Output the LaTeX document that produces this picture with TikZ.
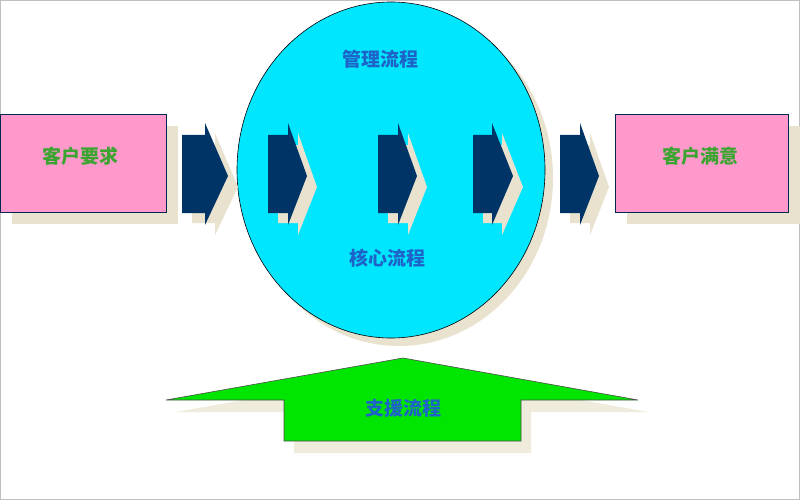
\documentclass[tikz,border=0pt]{standalone}
\usepackage{fontspec}
\usetikzlibrary{shapes.geometric}
\newfontfamily\cjk{Noto Sans CJK SC}
\definecolor{cyanfill}{RGB}{0,230,255}
\definecolor{pinkfill}{RGB}{255,153,204}
\definecolor{navy}{RGB}{0,51,102}
\definecolor{shadowc}{RGB}{232,226,206}
\definecolor{greenfill}{RGB}{0,230,0}
\definecolor{bluetext}{RGB}{30,100,200}
\definecolor{greentext}{RGB}{60,165,50}
\tikzset{
  lbl/.style={font=\cjk\bfseries\fontsize{19}{19}\selectfont},
  boxst/.style={draw=navy!80!black, line width=0.8pt, fill=pinkfill},
}
\begin{document}
\begin{tikzpicture}[x=1pt,y=-1pt]
\useasboundingbox (0,0) rectangle (800,500);
\fill[white] (0,0) rectangle (800,500);
\draw[gray!50, line width=1pt] (0.5,0.5) rectangle (799.5,499.5);
% ellipse
\fill[shadowc] (399,178) ellipse [x radius=154, y radius=168];
\node[draw=black, line width=0.6pt, fill=cyanfill, ellipse, minimum width=308, minimum height=336, inner sep=0] (core) at (391,170) {};
% boxes
\fill[shadowc] (12,126) rectangle (178,224);
\node[boxst, minimum width=166, minimum height=98, inner sep=0, anchor=north west] (req) at (0,114) {};
\node[lbl, text=greentext] (reqt) at (80,156) {客户要求};
\fill[shadowc] (627,126) rectangle (800,224);
\node[boxst, minimum width=173, minimum height=98, inner sep=0, anchor=north west] (sat) at (615,114) {};
\node[lbl, text=greentext] (satt) at (700,156) {客户满意};
% chevron arrows
\foreach \x/\w/\t in {182/23/23, 268/20/19, 378/20/19, 473/19/21, 560/20/19}{
  \fill[shadowc] ({\x+10},145) -- ({\x+\w+10},145) -- ({\x+\w+10},133) -- ({\x+\w+\t+10},187) -- ({\x+\w+10},235) -- ({\x+\w+10},223) -- ({\x+10},223) -- cycle;
  \fill[navy] (\x,135) -- ({\x+\w},135) -- ({\x+\w},123) -- ({\x+\w+\t},176) -- ({\x+\w},225) -- ({\x+\w},213) -- (\x,213) -- cycle;
}
% labels in ellipse
\node[lbl, text=bluetext] (mgmt) at (380,59) {管理流程};
\node[lbl, text=bluetext] (corel) at (387,258) {核心流程};
% bottom green arrow
\fill[shadowc!70!white] (176,412) -- (413,370) -- (648,412) -- (531,412) -- (531,453) -- (294,453) -- (294,412) -- cycle;
\filldraw[fill=greenfill, draw=black!70, line width=0.6pt] (166,400) -- (403,358) -- (638,400) -- (521,400) -- (521,441) -- (284,441) -- (284,400) -- cycle;
\node[lbl, text=bluetext] (sup) at (403,408) {支援流程};
\end{tikzpicture}
\end{document}
